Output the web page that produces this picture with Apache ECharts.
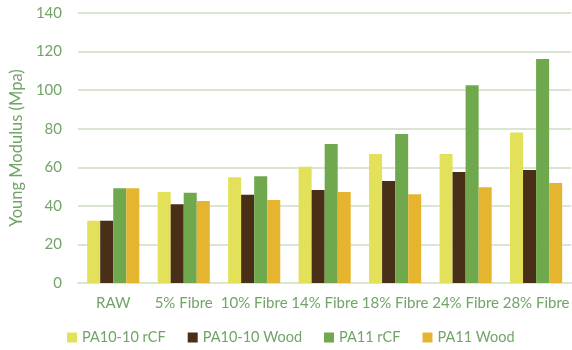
<!DOCTYPE html>
<html>
<head>
<meta charset="utf-8">
<script src="https://cdn.jsdelivr.net/npm/echarts@6/dist/echarts.min.js"></script>
<style>
  html, body { margin: 0; padding: 0; background: #fff; }
  #chart { width: 572px; height: 350px; }
</style>
</head>
<body>
<div id="chart"></div>
<script>
// Young modulus per fibre loading, four material systems
const categories = ['RAW', '5% Fibre', '10% Fibre', '14% Fibre', '18% Fibre', '24% Fibre', '28% Fibre'];
const seriesNames = ['PA10-10 rCF', 'PA10-10 Wood', 'PA11 rCF', 'PA11 Wood'];
const pa1010rCF  = [32.3, 47.2, 54.8, 60.3, 66.9, 66.9, 78.1];
const pa1010Wood = [32.3, 40.8, 45.8, 48.2, 52.9, 57.5, 58.6];
const pa11rCF    = [49.1, 46.8, 55.3, 72.1, 77.2, 102.6, 116.1];
const pa11Wood   = [49.1, 42.5, 43.0, 47.2, 46.0, 49.6, 51.8];
const yTicks = [0, 20, 40, 60, 80, 100, 120, 140];

const colors = ['#E3E159', '#4A2F18', '#70A84E', '#E6B52F'];
const textColor = '#72A468';
const font = 'Lato, "Open Sans", sans-serif';

const values = [pa1010rCF, pa1010Wood, pa11rCF, pa11Wood];

const chart = echarts.init(document.getElementById('chart'));
chart.setOption({
  animation: false,
  color: colors,
  grid: { left: 76, right: -4, top: 13, bottom: 67 },
  legend: {
    bottom: 0,
    left: 62,
    itemWidth: 10,
    itemHeight: 10,
    itemGap: 22,
    icon: 'rect',
    textStyle: { color: textColor, fontSize: 14.5, fontFamily: font },
    data: seriesNames
  },
  xAxis: {
    type: 'category',
    data: categories,
    axisTick: { show: false },
    axisLine: { lineStyle: { color: '#D9E6D2', width: 2 } },
    axisLabel: { color: textColor, fontSize: 15, fontFamily: font, margin: 13, interval: 0 }
  },
  yAxis: {
    type: 'value',
    min: yTicks[0],
    max: yTicks[yTicks.length - 1],
    interval: 20,
    name: 'Young Modulus (Mpa)',
    nameLocation: 'middle',
    nameGap: 48,
    nameTextStyle: { color: textColor, fontSize: 16.5, fontFamily: font },
    axisLine: { show: false },
    axisTick: { show: false },
    axisLabel: { color: textColor, fontSize: 15, fontFamily: font, margin: 16 },
    splitLine: { lineStyle: { color: '#D9E6D2', width: 2 } }
  },
  series: seriesNames.map((name, i) => ({
    name: name,
    type: 'bar',
    data: values[i],
    barGap: '0%',
    barCategoryGap: '26%'
  }))
});
</script>
</body>
</html>
